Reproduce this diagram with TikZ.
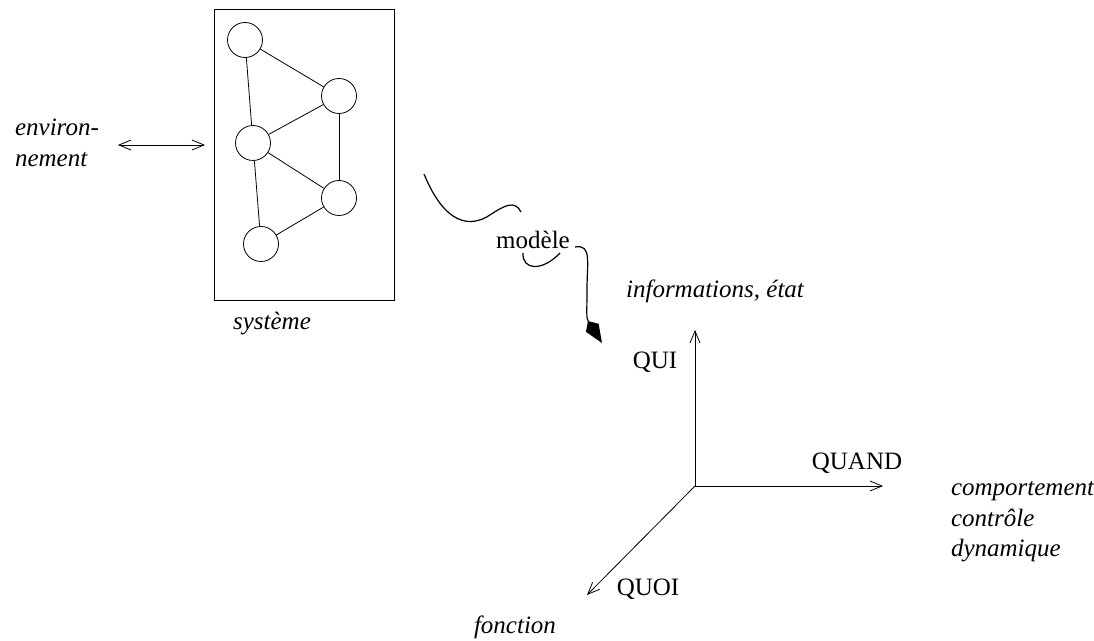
\documentclass[tikz,border=0pt]{standalone}
\usepackage{fontspec}
\setmainfont{Liberation Serif}
\usetikzlibrary{arrows.meta}
\tikzset{
  vertex/.style={draw,circle,thin,minimum size=17.5pt,inner sep=0pt},
  link/.style={thin},
  axis/.style={-{Straight Barb[length=6pt,width=5pt]},thin},
  both/.style={{Straight Barb[length=6pt,width=5pt]}-{Straight Barb[length=6pt,width=5pt]},thin},
  wiggle/.style={semithick},
  label/.style={font=\fontsize{12.5}{15.2}\selectfont\itshape,align=left},
  caps/.style={font=\fontsize{12.5}{15.2}\selectfont}
}
\begin{document}
\begin{tikzpicture}[x=0.5pt,y=-0.5pt]
    \useasboundingbox (0,0) rectangle (1094,641);
    % le systeme
    \node[draw,thin,minimum width=90pt,minimum height=145.5pt] (sys) at (304,154.5) {};
    \node[vertex] (n1) at (245,40) {};
    \node[vertex] (n2) at (339,96) {};
    \node[vertex] (n3) at (253,143) {};
    \node[vertex] (n4) at (339,198) {};
    \node[vertex] (n5) at (261,244) {};
    \draw[link] (n1) -- (n2);
    \draw[link] (n1) -- (n3);
    \draw[link] (n3) -- (n2);
    \draw[link] (n3) -- (n4);
    \draw[link] (n2) -- (n4);
    \draw[link] (n3) -- (n5);
    \draw[link] (n5) -- (n4);
    \node[label] (syslbl) at (272,324) {système};
    % environnement
    \node[label,anchor=west] (env) at (8,143) {environ-\\nement};
    \coordinate (envl) at (118,145);
    \coordinate (envr) at (205,145);
    \draw[both] (envl) -- (envr);
    % modele
    \node[caps] (mod) at (533,240) {modèle};
    \draw[wiggle] (424,174) .. controls (445,225) and (470,228) .. (490,215) .. controls (505,205) and (515,200) .. (521,212);
    \draw[wiggle] (523,253) .. controls (522,270) and (542,272) .. (560,253);
    \draw[wiggle,-{Kite[length=13pt,width=7.5pt,inset=4pt]}] (575,247) .. controls (592,244) and (587,262) .. (587,290) .. controls (587,312) and (586,318) .. (602,343);
    % les axes
    \coordinate (orig) at (695,486);
    \coordinate (yend) at (695,330);
    \coordinate (xend) at (883,486);
    \coordinate (zend) at (587,595);
    \draw[axis] (orig) -- (yend);
    \draw[axis] (orig) -- (xend);
    \draw[axis] (orig) -- (zend);
    \node[caps] (qui) at (655,362) {QUI};
    \node[caps] (quand) at (857,463) {QUAND};
    \node[caps] (quoi) at (648,589) {QUOI};
    \node[label] (info) at (715,291) {informations, état};
    \node[label,anchor=west] (comp) at (944,522) {comportement\\contrôle\\dynamique};
    \node[label] (fonc) at (515,627) {fonction};
  \end{tikzpicture}
\end{document}
